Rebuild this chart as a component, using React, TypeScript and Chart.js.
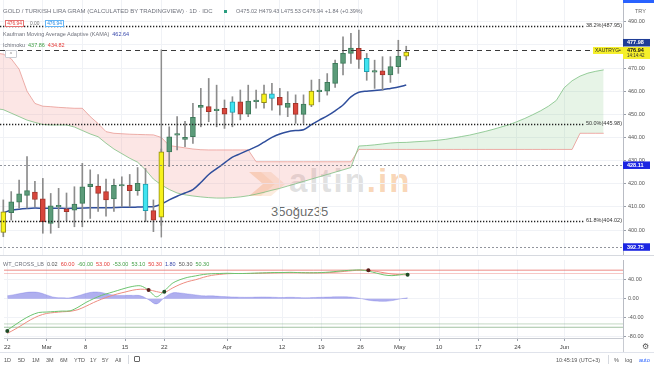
import React, { useEffect, useRef } from 'react';
import { Chart, registerables } from 'chart.js';

Chart.register(...registerables);

const FONT = '"Liberation Sans", Arial, sans-serif';

// ---------- time axis (bar index, 1 bar = 1 trading day, 0 = 22 Feb) ----------
const X_MIN = -0.42;
const X_MAX = 78.44;
const TICK_IDX = [0, 5, 10, 15, 20, 28, 35, 40, 45, 50, 55, 60, 65, 71];
const TICK_LABELS = ['22', 'Mar', '8', '15', '22', 'Apr', '12', '19', '26', 'May', '10', '17', '24', 'Jun'];

// ---------- candles ----------
const OPEN = [399.0, 407.5, 412.0, 415.0, 416.4, 413.5, 402.9, 410.0, 409.1, 408.6,
  411.5, 418.7, 419.0, 416.6, 413.4, 419.0, 419.4, 417.0, 419.9, 408.4,
  405.5, 433.8, 441.0, 439.2, 440.3, 453.0, 453.3, 451.6, 452.6, 450.8,
  455.4, 450.1, 455.5, 455.0, 458.8, 457.3, 453.0, 454.7, 450.0, 454.0,
  459.8, 460.0, 463.4, 472.0, 476.3, 478.5, 474.2, 468.2, 468.8, 467.0,
  470.6, 475.1];
const HIGH = [413.0, 416.6, 421.6, 431.7, 421.0, 422.3, 415.8, 418.0, 416.0, 418.7,
  428.8, 426.0, 424.0, 422.0, 422.0, 423.0, 424.0, 427.0, 426.6, 413.0,
  435.0, 444.6, 449.0, 447.0, 454.7, 461.2, 465.5, 462.6, 456.2, 457.6,
  460.5, 462.6, 460.5, 462.6, 463.4, 461.2, 459.8, 458.4, 458.4, 464.8,
  465.1, 467.6, 473.4, 483.5, 485.0, 486.4, 476.3, 473.4, 474.9, 474.9,
  482.0, 479.43];
const LOW = [397.1, 404.3, 409.4, 409.4, 410.0, 398.6, 398.6, 401.0, 404.0, 401.4,
  401.4, 405.0, 408.0, 406.0, 408.0, 410.0, 410.0, 415.0, 403.6, 399.3,
  402.0, 427.4, 434.6, 436.0, 437.4, 444.6, 446.8, 444.6, 443.9, 444.6,
  447.6, 449.0, 452.6, 452.6, 451.8, 449.7, 449.0, 446.1, 446.1, 453.3,
  455.4, 458.3, 461.6, 467.0, 472.0, 469.8, 464.7, 461.2, 460.5, 463.8,
  467.7, 473.53];
const CLOSE = [407.9, 412.2, 415.6, 417.0, 413.2, 403.5, 410.4, 410.4, 407.9, 411.2,
  418.7, 419.9, 415.8, 413.0, 419.3, 419.4, 417.0, 420.2, 408.4, 404.3,
  433.8, 440.3, 441.4, 440.0, 448.7, 453.9, 451.1, 452.0, 450.1, 455.4,
  450.1, 455.7, 455.9, 458.8, 456.9, 454.0, 454.7, 450.0, 454.4, 460.0,
  460.2, 463.8, 472.0, 476.3, 478.6, 473.7, 468.4, 468.6, 467.0, 470.6,
  475.2, 476.94];
const CANDLE_KIND = ['y', 'g', 'g', 'g', 'r', 'r', 'g', 'g', 'r', 'g',
  'g', 'g', 'r', 'r', 'g', 'g', 'r', 'g', 'c', 'r',
  'y', 'g', 'g', 'g', 'g', 'g', 'r', 'g', 'r', 'c',
  'r', 'g', 'g', 'y', 'c', 'r', 'g', 'r', 'g', 'y',
  'g', 'g', 'g', 'g', 'g', 'r', 'c', 'g', 'r', 'g',
  'g', 'y'];

// ---------- KAMA ----------
const KAMA = [407.5, 408.5, 409.0, 409.3, 409.5, 409.4, 409.4, 409.4, 409.3, 409.4,
  409.5, 409.6, 409.6, 409.6, 409.7, 409.8, 409.8, 409.9, 410.0, 410.1,
  411.2, 413.0, 414.6, 416.0, 417.5, 420.5, 424.0, 426.5, 429.0, 431.5,
  433.0, 434.5, 436.0, 438.0, 440.0, 441.5, 442.5, 443.0, 443.3, 445.5,
  447.5, 449.3, 451.5, 454.0, 457.5, 459.5, 460.0, 460.3, 460.6, 461.2,
  461.8, 462.64];

// ---------- Ichimoku cloud (first value at bar -1) ----------
const CLOUD_START = -1;
const SPAN_A = [452.5, 452.0, 450.5, 449.0, 447.5, 446.5, 445.6, 445.4, 445.4, 445.4, 444.5,
  443.0, 441.5, 440.3, 437.5, 435.0, 433.0, 431.0, 429.3, 426.0, 422.0,
  419.5, 417.5, 416.0, 415.2, 414.7, 414.3, 414.0, 413.8, 413.8, 414.0,
  414.3, 414.8, 415.5, 416.3, 417.2, 418.0, 419.0, 420.0, 421.0, 422.0,
  423.0, 424.0, 425.0, 426.0, 427.0, 436.3, 436.5, 436.8, 437.2, 437.6,
  437.8, 437.86, 438.1, 438.3, 438.5, 438.8, 439.2, 439.8, 440.4, 441.0,
  441.8, 442.6, 443.5, 444.5, 445.5, 446.8, 448.2, 449.8, 451.5, 453.5,
  456.0, 461.5, 464.5, 466.5, 467.8, 468.6, 469.2];
const SPAN_B = [476.5, 476.0, 474.0, 469.5, 460.0, 454.7, 453.5, 453.3, 453.0, 452.8, 452.6,
  452.6, 449.0, 446.0, 442.5, 441.8, 441.6, 441.4, 441.3, 441.2, 441.1,
  440.0, 436.5, 436.0, 435.5, 435.0, 434.7, 434.6, 434.6, 434.6, 434.6,
  434.6, 434.6, 429.5, 429.5, 429.5, 429.5, 429.5, 429.5, 429.5, 429.5,
  429.5, 429.5, 429.5, 429.5, 429.5, 434.82, 434.82, 434.82, 434.82, 434.82,
  434.82, 434.82, 434.82, 434.82, 434.82, 434.82, 434.82, 434.82, 434.82, 434.82,
  434.82, 434.82, 434.82, 434.82, 434.82, 434.82, 434.82, 434.82, 434.82, 434.82,
  434.82, 434.82, 434.82, 441.8, 441.8, 441.8, 441.8];

// ---------- price levels ----------
const FIB_LEVELS = [487.95, 445.98, 404.02];
const FIB_LABELS = ['38.2%(487.95)', '50.0%(445.98)', '61.8%(404.02)'];
const PRICE_LINE = 477.98;
const LAST_PRICE = 476.94;
const COUNTDOWN = '14:14:42';
const ALERT_LEVELS = [428.11, 392.75];
const MARKER_IDX = 20;
const MARKER_RANGE = [396.8, 478.0];
const PRICE_TICKS = [400, 410, 420, 430, 440, 450, 460, 470, 480, 490];
const PRICE_MIN = 389.2;
const PRICE_MAX = 499.4;

// ---------- WaveTrend ----------
const WT1 = [-66, -55, -44, -35, -29, -28, -27, -26, -25.5, -18,
  -8, 0, 7, 12, 17, 22, 26, 27, 18, 4,
  16, 32, 40, 45, 48, 51, 52.5, 53, 53.5, 53,
  53, 53.5, 54, 54.5, 55, 55, 55.5, 55, 54.5, 54.5,
  55, 56, 57.5, 59, 60, 60.5, 58, 54, 50, 48.5,
  50.2, 53.1];
const WT2 = [-73, -64, -54, -44, -36, -31, -29, -27.5, -26.5, -23,
  -16, -8, -1, 5, 10, 14, 18, 20, 19, 15,
  13, 22, 30, 36, 40, 45, 49, 51, 52.5, 53,
  53, 53, 53.5, 54, 54.5, 55, 55, 55, 54.8, 54.5,
  54.5, 55, 56, 57.5, 59, 60, 59.8, 57.5, 54.5, 52,
  50.5, 50.3];
const WT_DIFF = [6, 9, 12, 14, 13, 8, 3, 2, 2, 6,
  11, 14, 13, 9, 7, 7, 7, 6, -2, -11,
  2, 12, 12, 10, 8, 6, 6, 5, 4, 3.5,
  3, 3, 3.5, 3.5, 3, 2.5, 3, 2.5, 2, 2.5,
  3, 3.5, 4, 4, 3, 0.5, -3, -5, -5.5, -4,
  -0.5, 1.8];
const CROSS_IDX = [0, 18, 20, 46, 51];
const CROSS_VAL = [-68, 18.5, 14.5, 59.8, 50.3];
const CROSS_KIND = ['up', 'down', 'up', 'down', 'up'];
const WT_LEVELS = [60, 53, -53, -60];
const WT_TICKS = [-80, -40, 0, 40];
const WT_MIN = -82.6;
const WT_MAX = 81.4;

// ---------- styles ----------
const BODY: Record<string, string> = { g: '#5b9b79', r: '#d8463c', y: '#f7f21c', c: '#40e4f0' };
const EDGE: Record<string, string> = { g: '#3d7a5a', r: '#a3342b', y: '#8f8a14', c: '#1f9fb0' };
const GRID = '#f0f2f6';

function fitRight(s: any) {
  s.width = 31;
  s.paddingTop = 0;
  s.paddingBottom = 0;
}

function setTimeTicks(s: any) {
  s.ticks = TICK_IDX.map((v) => ({ value: v }));
}

function drawBox(ctx: CanvasRenderingContext2D, x: number, top: number, w: number, h: number, bg: string) {
  ctx.fillStyle = bg;
  ctx.fillRect(x, top, w, h);
}

function drawText(ctx: CanvasRenderingContext2D, text: string, x: number, y: number, color: string, size: number, bold = false, align: CanvasTextAlign = 'left') {
  ctx.font = `${bold ? 'bold ' : ''}${size}px ${FONT}`;
  ctx.fillStyle = color;
  ctx.textAlign = align;
  ctx.textBaseline = 'middle';
  ctx.fillText(text, x, y);
}

const mainOverlay = {
  id: 'mainOverlay',
  afterDatasetsDraw(chart: any) {
    const { ctx, chartArea: ca, scales } = chart;
    const y = scales.y;
    ctx.save();
    ctx.beginPath();
    ctx.rect(ca.left, ca.top, ca.right - ca.left, ca.bottom - ca.top);
    ctx.clip();
    ctx.lineWidth = 1;
    ctx.setLineDash([2, 2]);
    ctx.strokeStyle = 'rgba(110,113,124,0.75)';
    ALERT_LEVELS.forEach((v) => {
      const py = Math.round(y.getPixelForValue(v)) + 0.5;
      ctx.beginPath();
      ctx.moveTo(ca.left, py);
      ctx.lineTo(ca.right, py);
      ctx.stroke();
    });
    ctx.setLineDash([5, 4]);
    ctx.strokeStyle = '#3a3a3a';
    const pp = Math.round(y.getPixelForValue(PRICE_LINE)) + 0.5;
    ctx.beginPath();
    ctx.moveTo(ca.left, pp);
    ctx.lineTo(ca.right - 30, pp);
    ctx.stroke();
    FIB_LEVELS.forEach((v, i) => {
      const py = Math.round(y.getPixelForValue(v)) + 0.5;
      ctx.font = `5.5px ${FONT}`;
      const w = ctx.measureText(FIB_LABELS[i]).width;
      ctx.setLineDash([1.3, 1.7]);
      ctx.lineWidth = 1.3;
      ctx.strokeStyle = '#222';
      ctx.beginPath();
      ctx.moveTo(ca.left, py);
      ctx.lineTo(ca.right - w - 3, py);
      ctx.stroke();
      ctx.setLineDash([]);
      drawText(ctx, FIB_LABELS[i], ca.right - 1, py - 1.5, '#333', 5.5, false, 'right');
    });
    ctx.restore();
  },
  afterDraw(chart: any) {
    const { ctx, chartArea: ca, scales } = chart;
    const y = scales.y;
    ctx.save();
    ctx.setLineDash([]);
    const ax = ca.right;
    ALERT_LEVELS.forEach((v) => {
      const py = y.getPixelForValue(v);
      drawBox(ctx, ax, py - 3.5, 27, 7.5, '#1b25e2');
      drawText(ctx, v.toFixed(2), ax + 4, py + 0.3, '#ffffff', 5.5, true);
    });
    const lp = y.getPixelForValue(LAST_PRICE);
    drawBox(ctx, ax - 30, lp - 5, 30, 7, '#f5ef2a');
    drawText(ctx, 'XAUTRYG', ax - 28, lp - 1.5, '#222', 5, false);
    drawText(ctx, '•', ax - 4, lp - 1.5, '#222', 5, false);
    drawBox(ctx, ax, lp - 5, 27, 12, '#f5ef2a');
    drawText(ctx, LAST_PRICE.toFixed(2), ax + 4, lp - 1.3, '#111', 5.5, true);
    drawText(ctx, COUNTDOWN, ax + 4, lp + 4, '#333', 4.5, false);
    drawBox(ctx, ax, lp - 13, 27, 7.5, '#1f3d96');
    drawText(ctx, PRICE_LINE.toFixed(2), ax + 4, lp - 9, '#ffffff', 5.5, true);
    ctx.restore();
  },
};

function mainConfig(): any {
  const idx = OPEN.map((_, i) => i);
  return {
    type: 'bar',
    data: {
      datasets: [
        {
          type: 'line', label: 'Senkou B',
          data: SPAN_B.map((v, i) => ({ x: i + CLOUD_START, y: v })),
          borderColor: 'rgba(232,120,115,0.6)', borderWidth: 1, pointRadius: 0, fill: false, order: 6,
        },
        {
          type: 'line', label: 'Senkou A',
          data: SPAN_A.map((v, i) => ({ x: i + CLOUD_START, y: v })),
          borderColor: 'rgba(110,185,115,0.7)', borderWidth: 1, pointRadius: 0,
          fill: { target: 0, above: 'rgba(120,196,124,0.18)', below: 'rgba(240,140,135,0.22)' }, order: 5,
        },
        {
          type: 'line', label: 'KAMA',
          data: KAMA.map((v, i) => ({ x: i, y: v })),
          borderColor: '#2f4e9c', borderWidth: 1.5, pointRadius: 0, tension: 0.3, fill: false, order: 4,
        },
        {
          type: 'line', label: 'marker',
          data: MARKER_RANGE.map((v) => ({ x: MARKER_IDX, y: v })),
          borderColor: '#8e8e8e', borderWidth: 1.5, pointRadius: 0, fill: false, order: 3,
        },
        {
          type: 'bar', label: 'wick',
          data: idx.map((i) => ({ x: i, y: [LOW[i], HIGH[i]] })),
          backgroundColor: '#8c8c8c', barThickness: 1, grouped: false, order: 2,
        },
        {
          type: 'bar', label: 'body',
          data: idx.map((i) => ({ x: i, y: [OPEN[i], CLOSE[i]] })),
          backgroundColor: CANDLE_KIND.map((k) => BODY[k]),
          borderColor: CANDLE_KIND.map((k) => EDGE[k]),
          borderWidth: 1, borderSkipped: false, barThickness: 5, grouped: false, minBarLength: 1.5, order: 1,
        },
      ],
    },
    options: {
      responsive: false, animation: false, events: [],
      layout: { padding: 0 },
      plugins: { legend: { display: false }, tooltip: { enabled: false } },
      scales: {
        x: {
          type: 'linear', min: X_MIN, max: X_MAX, offset: false,
          afterBuildTicks: setTimeTicks,
          afterFit: (s: any) => { s.height = 0; s.paddingLeft = 0; s.paddingRight = 0; },
          ticks: { display: false },
          grid: { color: GRID, drawTicks: false, offset: false },
          border: { display: false },
        },
        y: {
          position: 'right', min: PRICE_MIN, max: PRICE_MAX,
          afterBuildTicks: (s: any) => { s.ticks = PRICE_TICKS.map((v) => ({ value: v })); },
          afterFit: fitRight,
          ticks: { callback: (v: any) => Number(v).toFixed(2), font: { size: 5.5, family: FONT }, color: '#555', padding: 2 },
          grid: { color: GRID, tickColor: '#9aa0aa', tickLength: 3 },
          border: { display: true, color: '#b9bcc4' },
        },
      },
    },
    plugins: [mainOverlay],
  };
}

function wtConfig(): any {
  const lvlColor = ['rgba(229,83,75,0.85)', 'rgba(229,83,75,0.4)', 'rgba(110,160,110,0.5)', 'rgba(110,160,110,0.8)'];
  return {
    type: 'line',
    data: {
      datasets: [
        ...WT_LEVELS.map((v, i) => ({
          type: 'line', label: 'lvl' + v,
          data: [{ x: X_MIN - 1, y: v }, { x: X_MAX + 1, y: v }],
          borderColor: lvlColor[i], borderWidth: 0.8, pointRadius: 0, fill: false, order: 7,
        })),
        {
          type: 'line', label: 'diff',
          data: WT_DIFF.map((v, i) => ({ x: i, y: v })),
          fill: 'origin', backgroundColor: 'rgba(110,110,225,0.55)', borderColor: 'rgba(110,110,225,0.65)',
          borderWidth: 0.5, pointRadius: 0, tension: 0.4, order: 5,
        },
        {
          type: 'line', label: 'wt2',
          data: WT2.map((v, i) => ({ x: i, y: v })),
          borderColor: '#ee8c80', borderWidth: 1, pointRadius: 0, tension: 0.3, fill: false, order: 3,
        },
        {
          type: 'line', label: 'wt1',
          data: WT1.map((v, i) => ({ x: i, y: v })),
          borderColor: '#6cc46f', borderWidth: 1, pointRadius: 0, tension: 0.3, fill: false, order: 2,
        },
        {
          type: 'line', label: 'cross', showLine: false,
          data: CROSS_IDX.map((x, i) => ({ x, y: CROSS_VAL[i] })),
          pointRadius: 2, pointBorderWidth: 0,
          pointBackgroundColor: CROSS_KIND.map((k) => (k === 'up' ? '#1f4a25' : '#5a1f1c')), order: 1,
        },
      ],
    },
    options: {
      responsive: false, animation: false, events: [],
      layout: { padding: 0 },
      plugins: { legend: { display: false }, tooltip: { enabled: false } },
      scales: {
        x: {
          type: 'linear', min: X_MIN, max: X_MAX, offset: false,
          afterBuildTicks: setTimeTicks,
          afterFit: (s: any) => { s.height = 14; s.paddingLeft = 0; s.paddingRight = 0; },
          ticks: {
            callback: (v: any) => TICK_LABELS[TICK_IDX.indexOf(Number(v))],
            font: { size: 6, family: FONT }, color: '#444', padding: 3,
            autoSkip: false, maxRotation: 0, minRotation: 0,
          },
          grid: { color: GRID, tickColor: '#9aa0aa', tickLength: 3, offset: false },
          border: { display: true, color: '#c8cbd2' },
        },
        y: {
          position: 'right', min: WT_MIN, max: WT_MAX,
          afterBuildTicks: (s: any) => { s.ticks = WT_TICKS.map((v) => ({ value: v })); },
          afterFit: fitRight,
          ticks: { callback: (v: any) => Number(v).toFixed(2), font: { size: 5.5, family: FONT }, color: '#555', padding: 2 },
          grid: { color: GRID, tickColor: '#9aa0aa', tickLength: 3 },
          border: { display: true, color: '#b9bcc4' },
        },
      },
    },
  };
}

const abs = (left: number, top: number, extra: React.CSSProperties = {}): React.CSSProperties => ({
  position: 'absolute', left, top, whiteSpace: 'nowrap', ...extra,
});

function Line({ x, cy, size = 5.5, color = '#6a6d78', children, extra = {} }: any) {
  const h = Math.ceil(size + 2);
  return (
    <div style={abs(x, cy - h / 2, { fontSize: size, lineHeight: `${h}px`, height: h, color, ...extra })}>{children}</div>
  );
}

const gap = { marginLeft: 3 };

export default function App() {
  const mainRef = useRef<HTMLCanvasElement>(null);
  const wtRef = useRef<HTMLCanvasElement>(null);

  useEffect(() => {
    Chart.defaults.font.family = FONT;
    const main = new Chart(mainRef.current as HTMLCanvasElement, mainConfig());
    const wt = new Chart(wtRef.current as HTMLCanvasElement, wtConfig());
    return () => {
      main.destroy();
      wt.destroy();
    };
  }, []);

  return (
    <div style={{ position: 'absolute', left: 0, top: 0, width: 654, height: 366, background: '#fff', overflow: 'hidden', fontFamily: FONT }}>
      {/* watermark (behind the chart) */}
      <div style={abs(247, 168, { width: 170, height: 56 })}>
        <svg width="40" height="32" style={{ position: 'absolute', left: 0, top: 0 }}>
          <polygon points="2,4 14,4 28,16 14,28 2,28 16,16" fill="rgba(238,150,70,0.3)" />
          <polygon points="14,4 24,4 38,16 24,28 14,28 28,16" fill="rgba(238,150,70,0.18)" />
        </svg>
        <div style={abs(42, -6, { fontSize: 33, fontWeight: 'bold', color: 'rgba(160,160,160,0.32)', letterSpacing: 2 })}>
          altin<span style={{ color: 'rgba(240,150,70,0.4)' }}>.in</span>
        </div>
        <div style={abs(24, 36, { fontSize: 13, color: 'rgba(80,80,80,0.85)' })}>35oğuz35</div>
      </div>

      <div style={abs(0, 0)}>
        <canvas ref={mainRef} width={654} height={255} style={{ display: 'block', width: 654, height: 255 }} />
      </div>
      <div style={abs(0, 255, { width: 654, height: 1, background: '#d6d9df' })} />
      <div style={abs(0, 256)}>
        <canvas ref={wtRef} width={654} height={96} style={{ display: 'block', width: 654, height: 96 }} />
      </div>

      {/* top-right */}
      <div style={abs(623, 0, { width: 31, height: 3, background: '#2962ff' })} />
      <Line x={635} cy={11} size={5.5} color="#666">TRY</Line>

      {/* legends main pane */}
      <Line x={3} cy={11} size={6} color="#6f727c">GOLD / TURKISH LIRA GRAM (CALCULATED BY TRADINGVIEW) · 1D · IDC</Line>
      <div style={abs(224, 9.5, { width: 3, height: 3, background: '#2a9d7f' })} />
      <Line x={236} cy={11} size={5.5} color="#6f727c">O475.02 H479.43 L475.53 C476.94 +1.84 (+0.39%)</Line>

      <div style={abs(5, 19.5, { width: 19, height: 7, border: '0.8px solid #e57373', boxSizing: 'border-box', fontSize: 4.8, lineHeight: '6px', color: '#e53935', textAlign: 'center', background: '#fff' })}>476.94</div>
      <Line x={30} cy={23.3} size={4.8} color="#777">0.00</Line>
      <div style={abs(45, 19.5, { width: 19, height: 7, border: '0.8px solid #64b5f6', boxSizing: 'border-box', fontSize: 4.8, lineHeight: '6px', color: '#1e88e5', textAlign: 'center', background: '#fff' })}>476.94</div>

      <Line x={3} cy={34.3} size={5.5} color="#6f727c">
        Kaufman Moving Average Adaptive (KAMA)<span style={{ ...gap, color: '#3949ab' }}>462.64</span>
      </Line>
      <Line x={3} cy={45} size={5.5} color="#6f727c">
        Ichimoku<span style={{ ...gap, color: '#43a047' }}>437.86</span><span style={{ ...gap, color: '#e53935' }}>434.82</span>
      </Line>
      <div style={abs(5, 50, { width: 12, height: 8, border: '0.8px solid #c9ccd3', boxSizing: 'border-box', borderRadius: 1, fontSize: 5, lineHeight: '7px', color: '#777', textAlign: 'center', background: '#fff' })}>^</div>

      {/* indicator legend */}
      <Line x={3} cy={264} size={5.5} color="#6f727c">
        WT_CROSS_LB
        <span style={{ ...gap, color: '#555' }}>0.02</span>
        <span style={{ ...gap, color: '#e53935' }}>60.00</span>
        <span style={{ ...gap, color: '#43a047' }}>-60.00</span>
        <span style={{ ...gap, color: '#e53935' }}>53.00</span>
        <span style={{ ...gap, color: '#43a047' }}>-53.00</span>
        <span style={{ ...gap, color: '#43a047' }}>53.10</span>
        <span style={{ ...gap, color: '#e53935' }}>50.30</span>
        <span style={{ ...gap, color: '#3949ab' }}>1.80</span>
        <span style={{ ...gap, color: '#555' }}>50.30</span>
        <span style={{ ...gap, color: '#43a047' }}>50.30</span>
      </Line>

      {/* time axis corner */}
      <div style={abs(623, 338, { width: 1, height: 14, background: '#c8cbd2' })} />
      <Line x={642} cy={347} size={8} color="#555" extra={{ fontFamily: '"DejaVu Sans", sans-serif' }}>⚙</Line>

      {/* bottom toolbar */}
      <div style={abs(0, 352, { width: 654, height: 1, background: '#e0e3eb' })} />
      {['1D', '5D', '1M', '3M', '6M', 'YTD', '1Y', '5Y', 'All'].map((t, i) => (
        <Line key={t} x={[4, 18, 32, 46, 60, 74, 90, 102, 115][i]} cy={359.5} size={5.5} color="#555">{t}</Line>
      ))}
      <div style={abs(128, 355, { width: 1, height: 9, background: '#d6d9df' })} />
      <div style={abs(134, 356, { width: 6, height: 6, border: '0.8px solid #666', boxSizing: 'border-box', borderRadius: 1 })} />
      <Line x={556} cy={359.5} size={5.5} color="#555">10:45:19 (UTC+3)</Line>
      <div style={abs(608, 355, { width: 1, height: 9, background: '#d6d9df' })} />
      <Line x={614} cy={359.5} size={5.5} color="#555">%</Line>
      <Line x={625} cy={359.5} size={5.5} color="#555">log</Line>
      <Line x={639} cy={359.5} size={5.5} color="#2962ff">auto</Line>
    </div>
  );
}
